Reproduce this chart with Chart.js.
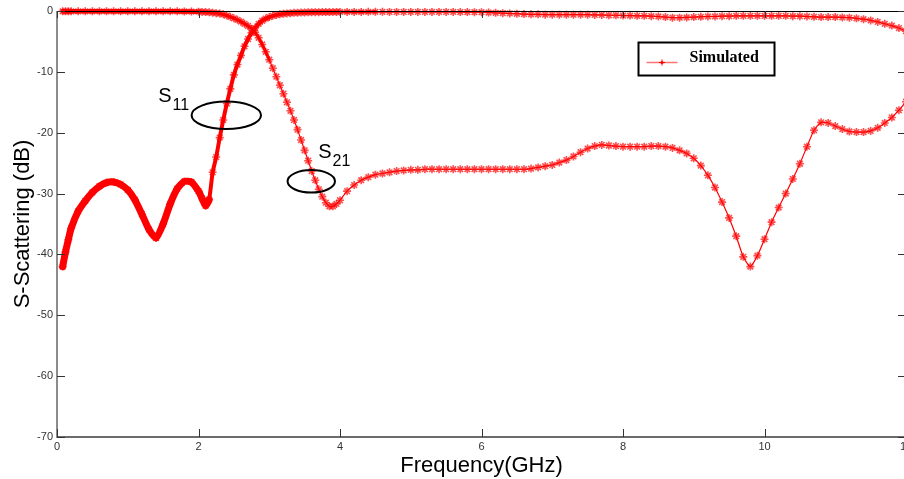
<!DOCTYPE html>
<html>
<head>
<meta charset="utf-8">
<script src="https://cdn.jsdelivr.net/npm/chart.js@4.4.1/dist/chart.umd.min.js"></script>
<style>
html,body{margin:0;padding:0;overflow:hidden;background:#fff;width:904px;height:479px}
#wrap{position:relative;width:916px;height:479px}
canvas{display:block}
</style>
</head>
<body>
<div id="wrap"><canvas id="c" width="916" height="479"></canvas></div>
<script>
// ---- data ----
const freq = [
  0.08, 0.12, 0.16, 0.2, 0.3, 0.4, 0.5, 0.6, 0.7, 0.8, 0.9, 1.0, 1.1, 1.2, 1.3, 1.4, 1.5, 1.6, 1.7, 1.8, 1.9, 2.0,
  2.05, 2.1, 2.15, 2.2, 2.25, 2.3, 2.35, 2.4, 2.45, 2.5, 2.55, 2.6, 2.65, 2.7, 2.75, 2.8, 2.85, 2.9, 2.95, 3.0,
  3.05, 3.1, 3.15, 3.2, 3.25, 3.3, 3.35, 3.4, 3.45, 3.5, 3.55, 3.6, 3.65, 3.7, 3.75, 3.8, 3.85, 3.9, 3.95, 4.0,
  4.1, 4.2, 4.3, 4.4, 4.5, 4.6, 4.7, 4.8, 4.9, 5.0, 5.1, 5.2, 5.3, 5.4, 5.5, 5.6, 5.7, 5.8, 5.9, 6.0,
  6.1, 6.2, 6.3, 6.4, 6.5, 6.6, 6.7, 6.8, 6.9, 7.0, 7.1, 7.2, 7.3, 7.4, 7.5, 7.6, 7.7, 7.8, 7.9, 8.0,
  8.1, 8.2, 8.3, 8.4, 8.5, 8.6, 8.7, 8.8, 8.9, 9.0, 9.1, 9.2, 9.3, 9.4, 9.5, 9.6, 9.7, 9.8, 9.9, 10.0,
  10.1, 10.2, 10.3, 10.4, 10.5, 10.6, 10.7, 10.8, 10.9, 11.0, 11.1, 11.2, 11.3, 11.4, 11.5, 11.6, 11.7, 11.8, 11.9, 12.0
];
const s11 = [
  -42.0, -39.6, -37.6, -35.7, -32.9, -31.2, -29.8, -28.8, -28.2, -28.1, -28.5, -29.4, -31.0, -33.4, -35.9, -37.3, -35.0, -31.7, -29.2, -28.0, -28.1, -29.6,
  -30.8, -32.0, -31.0, -26.5, -24.0, -20.8, -17.9, -15.2, -12.8, -10.5, -8.8, -7.3, -5.8, -4.6, -3.6, -2.8, -2.1, -1.6, -1.25, -1.0,
  -0.8, -0.65, -0.55, -0.45, -0.4, -0.35, -0.3, -0.28, -0.25, -0.23, -0.22, -0.2, -0.2, -0.19, -0.18, -0.18, -0.17, -0.17, -0.16, -0.16,
  -0.15, -0.15, -0.15, -0.14, -0.14, -0.14, -0.15, -0.15, -0.15, -0.15, -0.15, -0.15, -0.15, -0.15, -0.16, -0.16, -0.17, -0.18, -0.19, -0.2,
  -0.25, -0.3, -0.35, -0.4, -0.45, -0.5, -0.55, -0.55, -0.6, -0.6, -0.6, -0.6, -0.6, -0.6, -0.6, -0.65, -0.65, -0.7, -0.7, -0.75,
  -0.75, -0.8, -0.8, -0.85, -0.9, -1.0, -1.1, -1.1, -1.05, -1.0, -0.95, -0.9, -0.9, -0.85, -0.85, -0.8, -0.8, -0.8, -0.8, -0.8,
  -0.8, -0.8, -0.8, -0.85, -0.85, -0.9, -0.95, -1.0, -1.0, -1.0, -1.05, -1.1, -1.2, -1.35, -1.55, -1.8, -2.1, -2.4, -2.8, -3.3
];
const s21 = [
  -0.05, -0.05, -0.05, -0.05, -0.05, -0.05, -0.05, -0.05, -0.05, -0.05, -0.05, -0.05, -0.05, -0.05, -0.05, -0.05, -0.05, -0.05, -0.06, -0.08, -0.1, -0.12,
  -0.15, -0.18, -0.22, -0.28, -0.35, -0.43, -0.55, -0.75, -0.95, -1.2, -1.45, -1.75, -2.1, -2.45, -2.9, -3.5, -4.4, -5.5, -6.7, -8.0,
  -9.4, -10.8, -12.2, -13.6, -15.0, -16.4, -17.9, -19.5, -21.2, -22.9, -24.6, -26.3, -27.8, -29.3, -30.5, -31.5, -32.1, -32.1, -31.7, -31.1,
  -29.6, -28.6, -27.8, -27.3, -26.9, -26.7, -26.5, -26.3, -26.2, -26.1, -26.1, -26.0, -26.0, -26.0, -26.0, -26.0, -26.0, -26.0, -26.0, -26.0,
  -26.0, -26.0, -26.0, -26.0, -26.0, -26.0, -25.9, -25.7, -25.5, -25.3, -24.9, -24.5, -23.9, -23.2, -22.6, -22.2, -22.0, -22.1, -22.2, -22.3,
  -22.3, -22.3, -22.3, -22.2, -22.2, -22.3, -22.5, -22.9, -23.4, -24.2, -25.4, -27.0, -29.0, -31.4, -34.0, -37.0, -40.4, -42.0, -40.2, -37.5,
  -34.7, -32.3, -30.0, -27.6, -25.1, -22.3, -19.6, -18.3, -18.4, -18.9, -19.4, -19.8, -19.9, -19.9, -19.7, -19.2, -18.4, -17.5, -16.3, -14.9
];
const xTicks = [0, 2, 4, 6, 8, 10, 12];
const yTicks = [0, -10, -20, -30, -40, -50, -60, -70];
const seriesLabel = 'Simulated';
const xTitle = 'Frequency(GHz)';
const yTitle = 'S-Scattering (dB)';
const notes = [
  { main: 'S', sub: '11', at: [1.431, -14.9], ring: [2.393, -17.14] },
  { main: 'S', sub: '21', at: [3.693, -24.2], ring: [3.594, -27.98] }
];

// ---- styling ----
const RED = '#ff0000';
const ringSizes = [[34.7, 13.7], [23.7, 11.3]];
const pts = arr => freq.map((f, i) => ({ x: f, y: arr[i] }));

const overlay = {
  id: 'overlay',
  afterDatasetsDraw(chart) {
    const { ctx, chartArea: a, scales: { x, y } } = chart;
    ctx.save();
    const seg = (x1, y1, x2, y2) => { ctx.beginPath(); ctx.moveTo(x1, y1); ctx.lineTo(x2, y2); ctx.stroke(); };
    // frame
    ctx.strokeStyle = '#000'; ctx.lineWidth = 1;
    seg(a.left, a.top + 0.5, a.right, a.top + 0.5);
    seg(a.right - 0.5, a.top, a.right - 0.5, a.bottom);
    ctx.strokeStyle = '#8c8c8c'; ctx.lineWidth = 2;
    seg(a.left, a.top, a.left, a.bottom + 1);
    ctx.strokeStyle = '#3a3a3a'; ctx.lineWidth = 1.5;
    seg(a.left, a.bottom, a.right, a.bottom);
    // inward ticks
    ctx.strokeStyle = '#333'; ctx.lineWidth = 1;
    xTicks.forEach(v => {
      const px = Math.round(x.getPixelForValue(v)) + 0.5;
      seg(px, a.bottom, px, a.bottom - 8);
      seg(px, a.top, px, a.top + 7);
    });
    yTicks.forEach(v => {
      const py = Math.round(y.getPixelForValue(v)) + 0.5;
      seg(a.left, py, a.left + 8, py);
      seg(a.right, py, a.right - 8, py);
    });
    // annotations
    ctx.strokeStyle = '#000'; ctx.lineWidth = 2; ctx.fillStyle = '#000';
    notes.forEach((n, i) => {
      const cx = x.getPixelForValue(n.ring[0]), cy = y.getPixelForValue(n.ring[1]);
      ctx.beginPath(); ctx.ellipse(cx, cy, ringSizes[i][0], ringSizes[i][1], 0, 0, Math.PI * 2); ctx.stroke();
      const lx = x.getPixelForValue(n.at[0]), ly = y.getPixelForValue(n.at[1]);
      ctx.textBaseline = 'alphabetic'; ctx.textAlign = 'left';
      ctx.font = '20px "Liberation Sans", Arial, sans-serif';
      ctx.fillText(n.main, lx, ly);
      const w = ctx.measureText(n.main).width;
      ctx.font = '16px "Liberation Sans", Arial, sans-serif';
      ctx.fillText(n.sub, lx + w + 1, ly + 8);
    });
    // legend
    const bx = a.left + 581.5, by = a.top + 31.5, bw = 136, bh = 33;
    ctx.fillStyle = '#fff'; ctx.fillRect(bx, by, bw, bh);
    ctx.strokeStyle = '#000'; ctx.lineWidth = 2; ctx.strokeRect(bx, by, bw, bh);
    ctx.strokeStyle = 'rgba(255,0,0,0.55)'; ctx.lineWidth = 1.5;
    seg(bx + 8, by + 20, bx + 39, by + 20);
    ctx.strokeStyle = RED; ctx.lineWidth = 1;
    const mx = bx + 23.5, my = by + 20;
    seg(mx - 3, my, mx + 3, my); seg(mx, my - 3, mx, my + 3);
    ctx.fillStyle = RED; ctx.beginPath(); ctx.arc(mx, my, 1.5, 0, Math.PI * 2); ctx.fill();
    ctx.fillStyle = '#000'; ctx.font = 'bold 16px "Liberation Serif", "Times New Roman", serif';
    ctx.textBaseline = 'alphabetic'; ctx.textAlign = 'left';
    ctx.fillText(chart.data.datasets[0].label, bx + 51, by + 19.5);
    ctx.restore();
  }
};

const commonDs = {
  borderColor: RED, borderWidth: 1.2, pointStyle: 'star', pointRadius: 4, pointBorderWidth: 1.6,
  pointBorderColor: 'rgba(255,0,0,0.7)', pointBackgroundColor: RED, tension: 0.2,
  borderJoinStyle: 'round', borderCapStyle: 'round', clip: false, fill: false
};

new Chart(document.getElementById('c'), {
  type: 'line',
  data: {
    datasets: [
      Object.assign({}, commonDs, {
        label: seriesLabel, data: pts(s11),
        segment: { borderWidth: c => c.p0.parsed.x < 2.12 ? 7 : (c.p0.parsed.x < 3.0 ? 4 : (c.p0.parsed.x < 4.5 ? 3 : 1.2)) }
      }),
      Object.assign({}, commonDs, {
        label: seriesLabel, data: pts(s21),
        segment: { borderWidth: c => c.p0.parsed.x < 2.0 ? 4.5 : (c.p0.parsed.x < 3.0 ? 3 : 1.2) }
      })
    ]
  },
  options: {
    responsive: false, animation: false, devicePixelRatio: 1,
    layout: { padding: 0 },
    plugins: { legend: { display: false }, tooltip: { enabled: false } },
    scales: {
      x: {
        type: 'linear', position: 'bottom', min: 0, max: 12,
        afterBuildTicks: s => { s.ticks = xTicks.map(v => ({ value: v })); },
        grid: { display: false, drawTicks: false }, border: { display: false },
        ticks: { padding: 3, color: '#333', maxRotation: 0, autoSkip: false,
                 font: { family: '"Liberation Sans Narrow", "Arial Narrow", "Liberation Sans", Arial', size: 11 } },
        title: { display: true, text: xTitle, color: '#000', padding: { top: 0, bottom: 0 },
                 font: { family: '"Liberation Sans", Arial, sans-serif', size: 22 } },
        afterFit: s => { s.height = 42; }
      },
      x2: {
        type: 'linear', position: 'top', min: 0, max: 12,
        grid: { display: false, drawTicks: false }, border: { display: false }, ticks: { display: false },
        afterFit: s => { s.height = 11; }
      },
      y: {
        type: 'linear', position: 'left', min: -70, max: 0,
        afterBuildTicks: s => { s.ticks = yTicks.map(v => ({ value: v })); },
        grid: { display: false, drawTicks: false }, border: { display: false },
        ticks: { padding: 4, color: '#333', font: { family: '"Liberation Sans", Arial, sans-serif', size: 11 } },
        title: { display: true, text: yTitle, color: '#000', padding: { top: 10, bottom: 0 },
                 font: { family: '"Liberation Sans", Arial, sans-serif', size: 22 } },
        afterFit: s => { s.width = 57; }
      },
      y2: {
        type: 'linear', position: 'right', min: -70, max: 0,
        grid: { display: false, drawTicks: false }, border: { display: false }, ticks: { display: false },
        afterFit: s => { s.width = 10; }
      }
    }
  },
  plugins: [overlay]
});
</script>
</body>
</html>
